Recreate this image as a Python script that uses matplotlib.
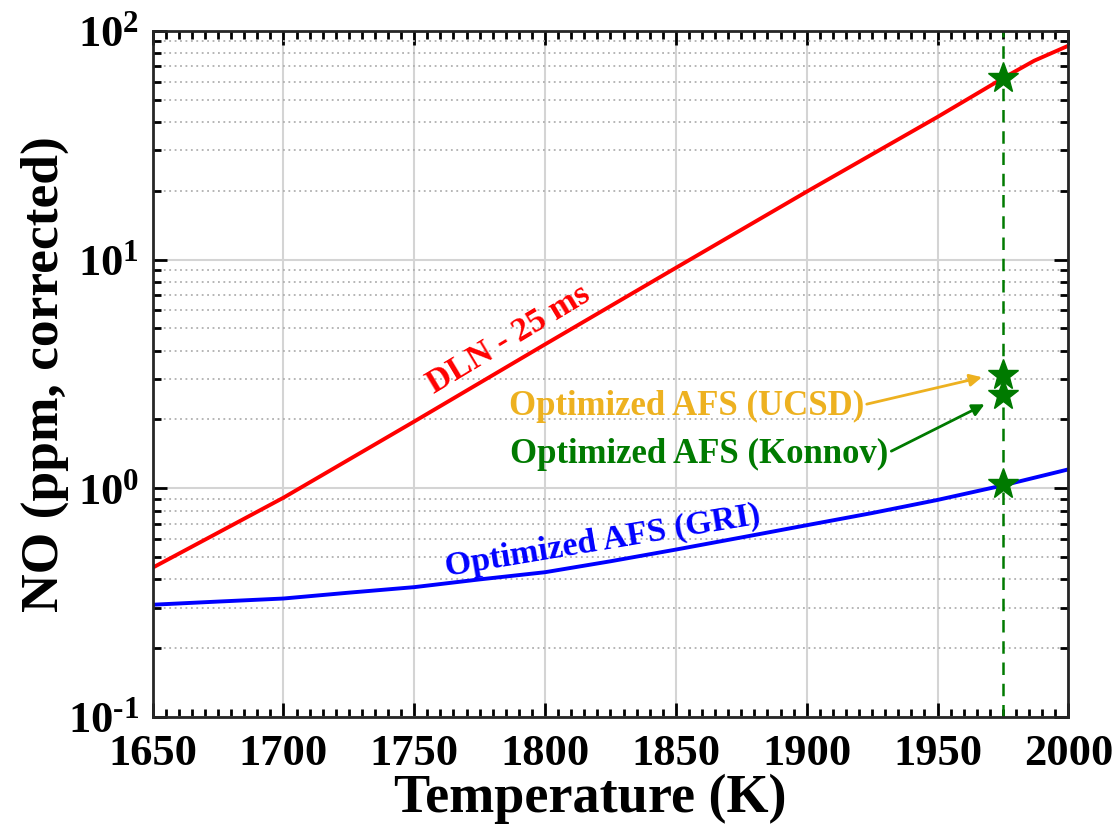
import numpy as np
import matplotlib.pyplot as plt
from matplotlib.ticker import LogLocator, MultipleLocator, FuncFormatter, NullFormatter

plt.rcParams['font.family'] = 'Liberation Serif'
plt.rcParams['font.weight'] = 'bold'
plt.rcParams['mathtext.fontset'] = 'custom'
plt.rcParams['mathtext.rm'] = 'Liberation Serif:bold'
plt.rcParams['mathtext.bf'] = 'Liberation Serif:bold'
plt.rcParams['mathtext.default'] = 'rm'

# data
temp = [1650, 1700, 1750, 1800, 1850, 1900, 1950, 1975, 1987, 2000]
no_dln = [0.45, 0.91, 1.96, 4.26, 9.2, 19.8, 42, 62, 74, 86]

temp_gri = [1650, 1675, 1700, 1725, 1750, 1775, 1800, 1825, 1850, 1875,
            1900, 1925, 1950, 1975, 2000]
no_gri = [0.31, 0.32, 0.33, 0.35, 0.37, 0.40, 0.43, 0.48, 0.54, 0.61,
          0.69, 0.78, 0.89, 1.03, 1.21]

t_star = 1975
star_vals = [62, 3.12, 2.55, 1.05]

RED = '#ff0000'
BLUE = '#0000ff'
GREEN = '#007a00'
ORANGE = '#edb120'


def sci_label(v, pos):
    e = int(round(np.log10(v)))
    if e < 0:
        return r'$10^{\text{-}%d}$' % (-e)
    return r'$10^{%d}$' % e


fig = plt.figure(figsize=(11.14, 8.31), dpi=100)
ax = fig.add_axes([0.137, 0.137, 0.822, 0.826])

ax.plot(temp, no_dln, color=RED, lw=2.8)
ax.plot(temp_gri, no_gri, color=BLUE, lw=2.8)
ax.axvline(t_star, color=GREEN, ls='--', lw=1.8, dashes=(5, 3.5))
ax.plot([t_star] * len(star_vals), star_vals, '*', color=GREEN, ms=23,
        mec=GREEN)

ax.set_yscale('log')
ax.set_xlim(1650, 2000)
ax.set_ylim(0.1, 100)
ax.xaxis.set_major_locator(MultipleLocator(50))
ax.xaxis.set_minor_locator(MultipleLocator(5))
ax.yaxis.set_major_locator(LogLocator(base=10))
ax.yaxis.set_minor_locator(LogLocator(base=10, subs=np.arange(2, 10)))
ax.yaxis.set_major_formatter(FuncFormatter(sci_label))
ax.yaxis.set_minor_formatter(NullFormatter())

ax.grid(which='major', axis='both', color='#d4d4d4', lw=1.5, ls='-')
ax.grid(which='minor', axis='y', color='#b0b0b0', lw=1.3, ls=(0, (1, 2)))
ax.tick_params(which='both', direction='in', top=True, right=True,
               labelsize=32, width=2)
ax.tick_params(which='major', length=10)
ax.tick_params(which='minor', length=6)
ax.tick_params(axis='x', pad=12)
ax.tick_params(axis='y', pad=10)
for s in ax.spines.values():
    s.set_linewidth(2)
    s.set_color('#262626')

ax.set_xlabel('Temperature (K)', fontsize=39, fontweight='bold', labelpad=0)
ax.xaxis.label.set_x(0.478)
ax.set_ylabel('NO (ppm, corrected)', fontsize=38.5, fontweight='bold',
              labelpad=-1)

ax.text(1786, 4.5, 'DLN - 25 ms', color=RED, fontsize=24.5, rotation=31,
        ha='center', va='center', fontweight='bold')
ax.text(1822, 0.585, 'Optimized AFS (GRI)', color=BLUE, fontsize=24.5,
        rotation=9.5, ha='center', va='center', fontweight='bold')
ax.annotate('Optimized AFS (UCSD)', xy=(1967, 3.06), xytext=(1854, 2.28),
            color=ORANGE, fontsize=25, ha='center', va='center',
            fontweight='bold',
            arrowprops=dict(arrowstyle='-|>', color=ORANGE, lw=2,
                            shrinkA=0, shrinkB=0, mutation_scale=18,
                            relpos=(1.0, 0.55)))
ax.annotate('Optimized AFS (Konnov)', xy=(1968, 2.33), xytext=(1859, 1.41),
            color=GREEN, fontsize=25, ha='center', va='center',
            fontweight='bold',
            arrowprops=dict(arrowstyle='-|>', color=GREEN, lw=2,
                            shrinkA=0, shrinkB=0, mutation_scale=18,
                            relpos=(1.0, 0.55)))

fig.savefig('out.png', dpi=100)
